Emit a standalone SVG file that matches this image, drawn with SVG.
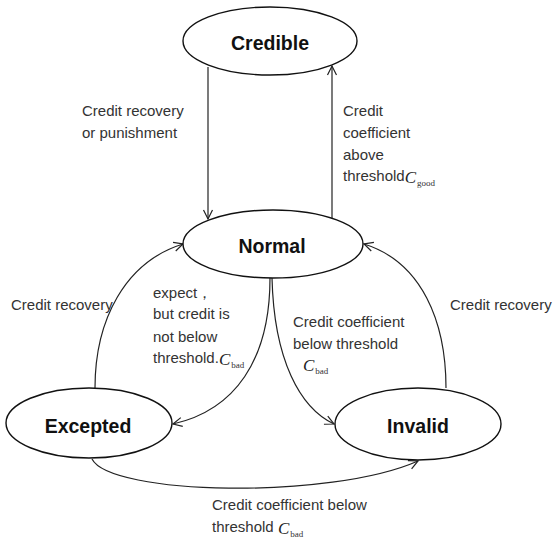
<svg xmlns="http://www.w3.org/2000/svg" width="558" height="548" viewBox="0 0 558 548">
<style>
.node ellipse{fill:#fff;stroke:#111;stroke-width:1.4}
.node text{font-family:"Liberation Sans",Arial,sans-serif;font-weight:bold;font-size:19.5px;fill:#111;text-anchor:middle}
.edges path{fill:none;stroke:#222;stroke-width:1.2;marker-end:url(#arr)}
.lbl{font-family:"Liberation Sans",Arial,sans-serif;font-size:15px;fill:#333}
.cv{font-family:"Liberation Serif","Times New Roman",serif;font-style:italic;font-size:17px;fill:#222}
.sub{font-family:"Liberation Serif","Times New Roman",serif;font-style:normal;font-size:9px;fill:#333}
</style>
<defs>
<marker id="arr" markerWidth="12" markerHeight="12" viewBox="-10 -6 12 12" refX="0" refY="0" orient="auto" markerUnits="userSpaceOnUse">
<path d="M-9,-4.5 L0,0 L-9,4.5" fill="none" stroke="#222" stroke-width="1.2"/>
</marker>
</defs>
<rect width="558" height="548" fill="#fff"/>
<g class="edges">
<path d="M208,67 L208,219"/>
<path d="M332,218 L332,66"/>
<path d="M95,388 C95,320 125,262 183,244"/>
<path d="M270,278 C270,360 235,410 173,424"/>
<path d="M272,278 C274,360 300,408 334,424"/>
<path d="M446,388 C446,322 422,262 364,244"/>
<path d="M92,459 C110,495 330,500 418,461"/>
</g>
<g id="credible" class="node"><ellipse cx="270" cy="41" rx="87" ry="34"/><text x="270" y="50">Credible</text></g>
<g id="normal" class="node"><ellipse cx="273" cy="244" rx="90" ry="34"/><text x="272" y="253">Normal</text></g>
<g id="excepted" class="node"><ellipse cx="89" cy="423" rx="83" ry="35"/><text x="88" y="433">Excepted</text></g>
<g id="invalid" class="node"><ellipse cx="418" cy="424" rx="83" ry="36"/><text x="418" y="433">Invalid</text></g>
<g id="labels">
<text class="lbl" x="82" y="116">Credit recovery</text>
<text class="lbl" x="82" y="138">or punishment</text>
<text class="lbl" x="343" y="116">Credit</text>
<text class="lbl" x="343" y="138">coefficient</text>
<text class="lbl" x="343" y="160">above</text>
<text class="lbl" x="343" y="181">threshold<tspan class="cv" dy="2">C</tspan><tspan class="sub" dx="1" dy="3">good</tspan></text>
<text class="lbl" x="11" y="310">Credit recovery</text>
<text class="lbl" x="450" y="310">Credit recovery</text>
<text class="lbl" x="153" y="298">expect，</text>
<text class="lbl" x="153" y="319">but credit is</text>
<text class="lbl" x="153" y="342">not below</text>
<text class="lbl" x="153" y="363">threshold.<tspan class="cv" dy="2">C</tspan><tspan class="sub" dx="1" dy="3">bad</tspan></text>
<text class="lbl" x="293" y="327">Credit coefficient</text>
<text class="lbl" x="293" y="349">below threshold</text>
<text class="cv" x="303" y="371">C<tspan class="sub" dx="1" dy="3">bad</tspan></text>
<text class="lbl" x="212" y="510">Credit coefficient below</text>
<text class="lbl" x="212" y="532">threshold <tspan class="cv" dy="2">C</tspan><tspan class="sub" dx="1" dy="3">bad</tspan></text>
</g>
</svg>
